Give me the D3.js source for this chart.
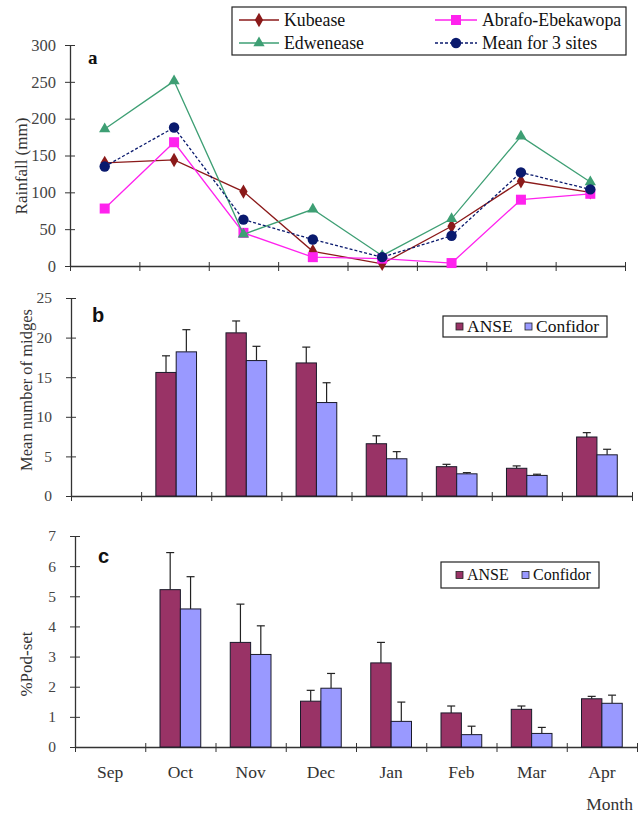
<!DOCTYPE html>
<html><head><meta charset="utf-8">
<script src="https://cdn.jsdelivr.net/npm/d3@7"></script>
<style>
body{margin:0;background:#fff;}
svg text{font-family:"Liberation Serif","Times New Roman",serif;fill:#333;}
</style></head>
<body>
<svg id="chart" width="639" height="814"></svg>
<script>
const months = ["Sep","Oct","Nov","Dec","Jan","Feb","Mar","Apr"];

// Panel a: rainfall (mm)
const kubease   = [140,144,101,20,3,54,115,100];
const abrafo    = [78,168,45,12,10,4,90,98];
const edwenease = [186,251,43,77,14,64,176,114];
const mean3     = [135,188,63,36,12,41,127,104];
const rainTicks = [0,50,100,150,200,250,300];

// Panel b: mean number of midges (null = no data)
const midgesANSE     = [null,15.6,20.6,16.8,6.6,3.7,3.5,7.45];
const midgesANSEErr  = [null,2.1,1.5,2.0,1.0,0.3,0.3,0.55];
const midgesConf     = [null,18.2,17.1,11.8,4.7,2.8,2.6,5.2];
const midgesConfErr  = [null,2.8,1.8,2.5,0.9,0.15,0.15,0.7];
const midgeTicks = [0,5,10,15,20,25];

// Panel c: % pod-set
const podANSE     = [null,5.22,3.47,1.52,2.79,1.13,1.25,1.6];
const podANSEErr  = [null,1.23,1.27,0.36,0.68,0.23,0.11,0.08];
const podConf     = [null,4.58,3.07,1.95,0.85,0.41,0.45,1.45];
const podConfErr  = [null,1.07,0.95,0.49,0.64,0.28,0.2,0.27];
const podTicks = [0,1,2,3,4,5,6,7];

const SERIF = "'Liberation Serif','Times New Roman',serif";
const svg = d3.select("#chart");

function frame(x0,x1,y0,yTop,yMax,ticks,fs,labelGap){
  const xb = d3.scaleBand().domain(months).range([x0,x1]).paddingInner(0.42).paddingOuter(0.21);
  const xl = d3.scaleLinear().domain([0,months.length]).range([x0,x1]);
  const y = d3.scaleLinear().domain([0,yMax]).range([y0,yTop]);
  const gx = svg.append("g").attr("transform",`translate(0,${y0})`)
    .call(d3.axisBottom(xl).tickValues(d3.range(0,months.length+1)).tickFormat("").tickSizeOuter(0));
  gx.selectAll(".tick line").attr("y1",-4).attr("y2",5).attr("stroke","#333");
  gx.select(".domain").attr("stroke","#333").attr("stroke-width",1.3);
  const gy = svg.append("g").attr("transform",`translate(${x0},0)`)
    .call(d3.axisLeft(y).tickValues(ticks).tickFormat(d3.format("d")).tickSizeOuter(0).tickPadding(labelGap));
  gy.selectAll(".tick line").attr("x1",-5).attr("x2",5).attr("stroke","#333");
  gy.select(".domain").attr("stroke","#333").attr("stroke-width",1.3);
  gy.selectAll(".tick text").style("font-family",SERIF).style("font-size",fs+"px").style("fill","#444");
  return {xb,y};
}

// ---------- Panel a ----------
{
  const {xb,y} = frame(70,625,266,45,300,rainTicks,16.5,8);
  const cx = m => xb(m)+xb.bandwidth()/2;
  const series = [
    {name:"Kubease",vals:kubease,color:"#8B1A1A",dash:null,shape:"diamond"},
    {name:"Abrafo-Ebekawopa",vals:abrafo,color:"#FF22EE",dash:null,shape:"square"},
    {name:"Edwenease",vals:edwenease,color:"#3E9F74",dash:null,shape:"triangle"},
    {name:"Mean for 3 sites",vals:mean3,color:"#0A1A6E",dash:"3,2",shape:"circle"}
  ];
  const sym = {diamond:[d3.symbolDiamond,60],square:[d3.symbolSquare,100],triangle:[d3.symbolTriangle,55],circle:[d3.symbolCircle,85]};
  const line = d3.line().x((d,i)=>cx(months[i])).y(d=>y(d));
  series.forEach(s=>{
    svg.append("path").attr("d",line(s.vals)).attr("fill","none").attr("stroke",s.color)
      .attr("stroke-width",1.3).attr("stroke-dasharray",s.dash);
    svg.append("g").selectAll("path").data(s.vals).join("path")
      .attr("transform",(d,i)=>`translate(${cx(months[i])},${y(d)})`)
      .attr("d",d3.symbol().type(sym[s.shape][0]).size(sym[s.shape][1])).attr("fill",s.color);
  });
  svg.append("text").attr("x",88).attr("y",64).text("a").style("font-family",SERIF).style("font-weight","bold").style("font-size","19px").style("fill","#111");
  svg.append("text").attr("transform","translate(27,166) rotate(-90)").attr("text-anchor","middle")
    .style("font-family",SERIF).style("font-size","17px").text("Rainfall (mm)");
  // legend
  const lg = svg.append("g");
  lg.append("rect").attr("x",232).attr("y",7).attr("width",394).attr("height",48).attr("fill","#fff").attr("stroke","#222").attr("stroke-width",1.2);
  const pos = [[239,20],[435,20],[239,43],[435,43]];
  series.forEach((s,j)=>{
    const [lx,ly] = pos[j], w = (j%2===0)?40:42;
    lg.append("line").attr("x1",lx).attr("x2",lx+w).attr("y1",ly).attr("y2",ly).attr("stroke",s.color).attr("stroke-width",1.3).attr("stroke-dasharray",s.dash);
    lg.append("path").attr("transform",`translate(${lx+w/2},${ly})`).attr("d",d3.symbol().type(sym[s.shape][0]).size(sym[s.shape][1])).attr("fill",s.color);
    lg.append("text").attr("x",lx+w+5).attr("y",ly+6).style("font-family",SERIF).style("font-size","17.8px").style("fill","#111").text(s.name);
  });
}

// ---------- bar panels ----------
function barPanel(opts){
  const {xb,y} = frame(opts.x0,opts.x1,opts.y0,opts.yTop,opts.yMax,opts.ticks,opts.fs,opts.gap);
  const sub = d3.scaleBand().domain([0,1]).range([0,xb.bandwidth()]);
  const sets = [[opts.a,opts.ae,"#993366"],[opts.c,opts.ce,"#9999FF"]];
  sets.forEach(([vals,errs,col],k)=>{
    const g = svg.append("g");
    months.forEach((m,i)=>{
      if(vals[i]==null) return;
      const bx = xb(m)+sub(k), bw = sub.bandwidth(), cx = bx+bw/2;
      g.append("line").attr("x1",cx).attr("x2",cx).attr("y1",y(vals[i])).attr("y2",y(vals[i]+errs[i])).attr("stroke","#222").attr("stroke-width",1.2);
      g.append("line").attr("x1",cx-4).attr("x2",cx+4).attr("y1",y(vals[i]+errs[i])).attr("y2",y(vals[i]+errs[i])).attr("stroke","#222").attr("stroke-width",1.2);
      g.append("rect").attr("x",bx).attr("y",y(vals[i])).attr("width",bw).attr("height",y(0)-y(vals[i]))
        .attr("fill",col).attr("stroke","#1a1a2a").attr("stroke-width",1);
    });
  });
  // legend
  const L = opts.leg;
  const lg = svg.append("g");
  lg.append("rect").attr("x",L.x).attr("y",L.y).attr("width",L.w).attr("height",L.h).attr("fill","#fff").attr("stroke","#222").attr("stroke-width",1.2);
  const cy = L.y+L.h/2;
  [["ANSE","#993366",L.s1],["Confidor","#9999FF",L.s2]].forEach(([t,c,sx])=>{
    lg.append("rect").attr("x",sx).attr("y",cy-3.5).attr("width",7).attr("height",7).attr("fill",c).attr("stroke","#222").attr("stroke-width",0.8);
    lg.append("text").attr("x",sx+11).attr("y",cy+L.fs*0.33).style("font-family",SERIF).style("font-size",L.fs+"px").style("fill","#111").text(t);
  });
  return {xb,y};
}

barPanel({x0:71,x1:632,y0:496,yTop:298,yMax:25,ticks:midgeTicks,fs:15.5,gap:13,
  a:midgesANSE,ae:midgesANSEErr,c:midgesConf,ce:midgesConfErr,
  leg:{x:443,y:316,w:164,h:21,s1:456,s2:525,fs:17.5}});
svg.append("text").attr("x",92).attr("y",322).text("b").style("font-family","Liberation Sans").style("font-weight","bold").style("font-size","20px").style("fill","#111");
svg.append("text").attr("transform","translate(32,390) rotate(-90)").attr("text-anchor","middle")
  .style("font-family",SERIF).style("font-size","16.5px").text("Mean number of midges");

const pc = barPanel({x0:75,x1:637,y0:747,yTop:536,yMax:7,ticks:podTicks,fs:15.5,gap:13,
  a:podANSE,ae:podANSEErr,c:podConf,ce:podConfErr,
  leg:{x:441,y:562,w:158,h:26,s1:456,s2:522,fs:16}});
svg.append("text").attr("x",98).attr("y",563).text("c").style("font-family","Liberation Sans").style("font-weight","bold").style("font-size","20px").style("fill","#111");
svg.append("text").attr("transform","translate(32,664) rotate(-90)").attr("text-anchor","middle")
  .style("font-family",SERIF).style("font-size","17px").text("%Pod-set");
// month labels
svg.append("g").selectAll("text").data(months).join("text")
  .attr("x",m=>pc.xb(m)+pc.xb.bandwidth()/2).attr("y",778).attr("text-anchor","middle")
  .style("font-family",SERIF).style("font-size","17.5px").text(d=>d);
svg.append("text").attr("x",633).attr("y",810).attr("text-anchor","end").style("font-family",SERIF).style("font-size","17.5px").text("Month");
</script>
</body></html>
